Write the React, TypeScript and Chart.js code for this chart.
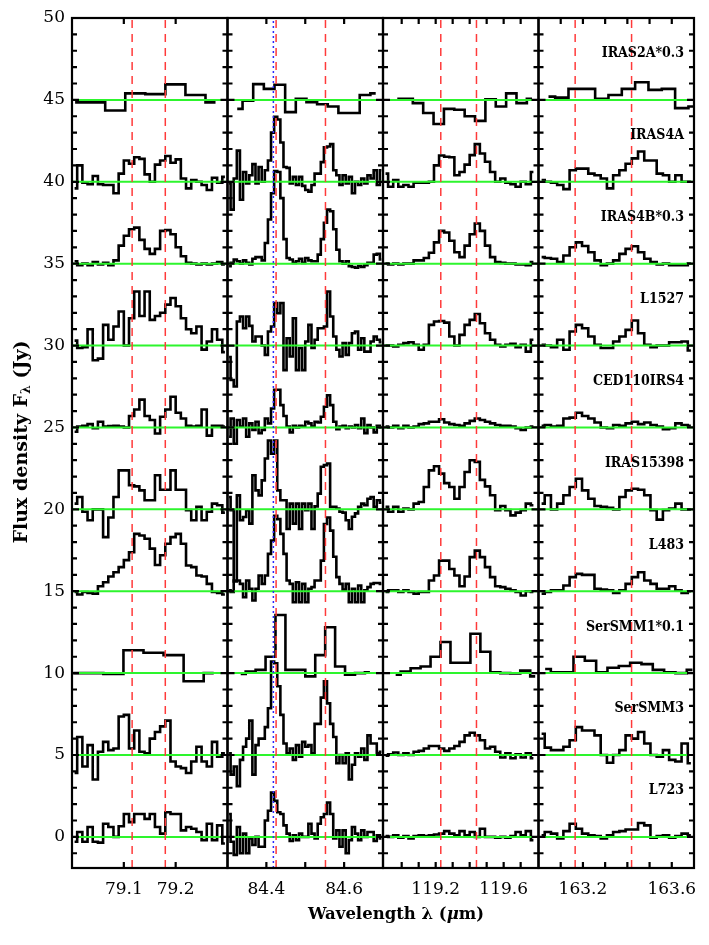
import React, { useEffect, useRef } from "react";
import { Chart, registerables } from "chart.js";

Chart.register(...registerables);

// ---------------- data ----------------
const SOURCES = ["IRAS2A*0.3", "IRAS4A", "IRAS4B*0.3", "L1527", "CED110IRS4", "IRAS15398", "L483", "SerSMM1*0.1", "SerSMM3", "L723"];
const OFFSETS = [45, 40, 35, 30, 25, 20, 15, 10, 5, 0];

const PANEL_MIN = [79.0, 84.3, 118.89, 163.0];
const PANEL_MAX = [79.3, 84.7, 119.805, 163.7];
const PANEL_TICKS = [
  [79.1, 79.2],
  [84.4, 84.5, 84.6],
  [119.0, 119.1, 119.2, 119.3, 119.4, 119.5, 119.6, 119.7],
  [163.1, 163.2, 163.3, 163.4, 163.5, 163.6],
];
const PANEL_LABELS = [
  [79.1, 79.2],
  [84.4, 84.6],
  [119.2, 119.6],
  [163.2, 163.6],
];
const OH_LINES = [
  [79.116, 79.18],
  [84.425, 84.552],
  [119.23, 119.44],
  [163.165, 163.419],
];
const CO_LINE = 84.418;
const Y_LABELS = [0, 5, 10, 15, 20, 25, 30, 35, 40, 45, 50];

// default wavelength grids (bin centres) of each panel
const GRID_START = [79.005, 84.304, 118.905, 163.014];
const GRID_STEP = [0.01, 0.008, 0.03, 0.028];

// ---- 79 um panel
const IRAS2A_79 = [-0.15, -0.15, -0.65, 0.4, 0.35, 0.95, 0.3, -0.15];
const IRAS4A_79 = [-0.4, 1.0, -0.06, -0.15, 0.35, -0.15, -0.2, -0.2, -0.7, 0.5, 1.3, 1.1, 1.5, 1.4, 0.45, 0.0, 1.05, 1.3, 1.57, 1.16, 1.37, 0.2, -0.4, 0.1, 0.0, -0.2, -0.5, 0.25, -0.06, 0.3];
const IRAS4B_79 = [0.15, -0.1, 0.0, -0.1, 0.1, -0.05, 0.05, -0.1, 0.2, 1.1, 1.7, 2.1, 2.2, 1.45, 0.9, 0.6, 0.9, 2.0, 2.05, 1.8, 1.0, 0.45, 0.05, 0.0, -0.05, 0.0, -0.05, 0.0, 0.1, -0.05];
const L1527_79 = [0.3, -0.15, -0.1, 1.0, -0.9, -0.8, 1.26, 0.35, 1.16, 2.08, 0.0, 1.67, 3.3, 1.8, 3.3, 1.57, 1.8, 2.0, 2.5, 2.9, 2.4, 1.67, 1.0, 0.75, 1.16, -0.25, 0.25, 1.0, 0.35, -0.4];
const CED110_79 = [-0.26, 0.05, 0.1, 0.2, -0.05, 0.35, 0.05, 0.08, 0.1, 0.05, 0.0, 0.7, 1.1, 1.7, 0.7, 0.45, -0.37, 0.65, 1.1, 1.87, 0.9, 0.55, 0.1, 0.05, 0.1, 1.1, -0.5, 0.1, 0.1, 0.05];
const IRAS15398_79 = [0.35, 0.75, -0.15, -0.67, 0.0, 0.0, -1.7, -0.5, 0.75, 2.38, 2.38, 1.47, 1.4, 1.16, 0.55, 0.55, 2.08, 1.2, 1.2, 2.38, 1.2, 1.2, -0.05, -0.67, 0.15, -0.67, -0.15, 0.35, 0.25, -0.2];
const L483_79 = [-0.05, -0.2, -0.05, -0.1, -0.15, 0.3, 0.55, 0.9, 1.16, 1.47, 1.9, 2.38, 3.5, 3.4, 3.2, 2.6, 1.6, 2.2, 2.9, 3.3, 3.5, 2.9, 1.57, 1.47, 0.96, 0.9, 0.45, -0.05, -0.1, -0.2];
const SERSMM1_79 = [0.0, 0.0, -0.05, 1.4, 1.24, 1.1, -0.5, 0.0];
const SERSMM3_79 = [-1.1, 1.1, -0.7, 0.6, -1.5, 0.2, 0.8, 0.3, 0.4, 2.35, 2.45, 0.4, 1.5, 0.2, 0.1, 1.0, 1.4, 1.75, 2.1, -0.4, -0.7, -0.8, -1.1, -0.4, 0.5, -0.4, -0.7, 0.8, -0.1, 0.1];
const L723_79 = [-0.3, 0.3, -0.3, 0.6, -0.3, -0.35, 0.8, 0.6, 0.0, 0.65, 1.4, 0.9, 1.4, 1.4, 1.1, 1.4, 0.6, 0.2, 1.5, 1.4, 1.4, 0.4, 0.6, 0.5, 0.3, -0.2, 0.8, -0.2, 0.7, -0.4];

// ---- 84 um panel
const IRAS2A_84 = [-0.55, -0.05, 0.96, 0.67, 0.92, -0.75, 0.06, -0.14, -0.27, -0.4, -0.8, -0.8, 0.3, 0.4];
const IRAS4A_84 = [-0.1, -1.7, 0.2, 1.9, -1.1, 0.6, -0.1, 0.4, 1.08, -0.1, 0.9, 0.0, 0.7, 1.3, 3.0, 3.97, 3.8, 2.4, 0.9, 0.85, -0.1, 0.3, -0.2, 0.3, -0.25, -0.5, -0.6, -0.2, 0.5, 0.5, 1.2, 2.1, 2.15, 2.3, 0.7, 0.4, -0.2, 0.4, -0.1, 0.3, -0.7, 0.0, -0.2, 0.2, -0.1, 0.4, 0.2, 0.7, -0.2, 0.7];
const IRAS4B_84 = [-0.15, 0.05, 0.25, 0.15, 0.0, 0.2, 0.05, -0.05, 0.3, 0.4, 0.4, 0.2, 1.26, 2.7, 4.3, 5.65, 5.6, 4.0, 1.5, 0.35, 0.25, 0.05, 0.15, 0.3, 0.05, 0.35, 0.2, 0.15, 0.15, 0.55, 1.5, 2.5, 3.3, 3.2, 2.1, 0.85, 0.15, 0.0, 0.15, -0.15, -0.2, -0.25, -0.15, -0.2, -0.1, 0.05, 0.05, 0.55, 0.6, 0.25];
const L1527_84 = [-0.7, -2.1, -2.5, 1.47, 1.77, 1.06, 1.77, 1.2, 0.25, 0.55, 0.55, 0.0, -0.57, 0.86, 1.16, 2.6, 1.97, 2.6, -1.5, 0.45, -0.67, 1.67, -1.5, -0.15, -1.5, 0.25, 1.26, -0.15, 0.35, 1.06, 1.06, 1.16, 3.3, 1.77, 0.55, -0.26, -0.67, 0.15, -0.57, 0.15, 0.75, 0.86, -0.26, 0.45, -0.37, -0.37, 0.25, 0.55, 0.35, 0.2];
const CED110_84 = [-0.57, 0.55, -1.0, 0.45, 0.05, 0.55, -0.57, 0.25, -0.15, 0.35, -0.35, -0.15, 0.55, 0.25, 1.16, 2.3, 2.3, 1.36, 0.7, 0.05, -0.3, 0.1, 0.0, 0.1, 0.05, 0.35, 0.25, 0.05, 0.35, 0.3, 0.65, 1.26, 1.97, 1.36, 0.35, -0.1, 0.05, 0.1, -0.05, 0.05, 0.0, 0.15, -0.05, 0.55, -0.35, 0.15, 0.0, -0.3, 0.1, 0.0];
const IRAS15398_84 = [0.75, -0.06, -4.4, 0.85, -0.67, -0.47, -0.06, -0.87, 2.08, 1.16, 0.85, 1.77, 3.1, 4.2, 3.4, 4.2, 1.16, 0.55, 0.55, -1.2, 0.35, -0.87, 0.35, -1.2, 0.35, -0.06, 0.35, -1.2, 0.18, 0.96, 2.6, 2.7, 2.8, 0.15, 0.15, 0.05, -0.15, -0.2, -0.67, -1.2, -0.45, -0.25, 0.15, 0.35, 0.25, 0.65, 0.75, 0.15, 0.55, 0.4];
const L483_84 = [0.05, -0.05, 0.65, 0.65, 0.45, -0.37, 0.65, 0.15, -0.57, 0.15, 0.96, 0.45, 0.96, 2.28, 3.1, 4.6, 4.4, 3.5, 2.28, 0.65, 0.45, -0.67, 0.55, -0.67, 0.45, -0.67, 0.15, 0.25, 0.65, 0.65, 1.87, 4.1, 4.5, 3.7, 2.1, 0.86, 0.45, 0.1, 0.45, -0.67, 0.15, -0.67, 0.35, -0.67, 0.05, 0.25, 0.45, 0.5, 0.5, 0.45];
const SERSMM1_84 = [-0.05, 0.1, 0.2, 1.0, 3.55, 0.2, 0.2, -0.2, 1.1, 2.8, 0.4, -0.1, 0.0, 0.05];
const SERSMM3_84 = [0.1, -1.2, -0.7, -1.9, -0.3, 0.5, 1.0, 2.1, -1.2, 0.6, 1.0, 1.0, 1.7, 2.85, 5.7, 5.6, 4.2, 2.45, 0.7, 0.1, 0.4, -0.3, 0.6, -0.1, 0.8, 0.5, 0.6, 0.1, 1.9, 1.9, 3.5, 4.5, 3.15, 1.9, 1.1, -0.5, 0.0, -0.5, 0.1, -1.5, -0.6, 0.1, -0.1, 0.4, -0.3, 1.2, 0.7, 0.7, 0.1, 0.2];
const L723_84 = [1.4, -0.3, -1.1, 0.6, -1.0, 0.2, -1.0, -0.1, -0.5, 0.0, -0.6, -0.6, 1.0, 1.6, 2.7, 2.2, 1.5, 1.4, 0.7, 0.2, -0.25, 0.1, -0.2, 0.2, 0.0, 0.0, 0.8, 0.2, -0.1, 0.8, 1.2, 1.4, 2.1, 1.4, -0.1, 0.4, -0.6, 0.4, -1.0, -0.2, 0.6, 0.2, -0.2, 0.4, 0.0, 0.3, 0.3, -0.25, 0.1, -0.1];

// ---- 119 um panel
const IRAS2A_119 = [0.06, 0.06, -0.2, -0.8, -1.47, -0.55, -0.6, -1.0, -1.28, 0.04, -0.4, 0.4, -0.2, 0.06];
const IRAS4A_119 = [0.5, -0.3, 0.1, -0.3, -0.2, -0.3, -0.05, -0.05, -0.05, 0.0, 1.0, 1.6, 1.53, 1.5, 0.4, 0.6, 1.05, 1.63, 2.3, 1.73, 1.22, 0.6, 0.0, 0.2, -0.05, -0.15, -0.3, 0.0, -0.15, 0.6];
const IRAS4B_119 = [0.0, -0.05, 0.0, -0.05, 0.0, 0.0, 0.2, 0.2, 0.35, 0.67, 1.3, 2.0, 1.9, 1.4, 0.7, 0.4, 1.1, 1.8, 2.45, 2.0, 1.1, 0.4, 0.1, 0.05, 0.0, 0.0, -0.05, -0.05, -0.1, 0.1];
const L1527_119 = [0.0, 0.0, -0.05, 0.05, 0.15, 0.2, 0.05, -0.26, 0.05, 1.26, 1.47, 1.5, 1.4, 0.55, 0.0, 0.65, 1.26, 1.57, 1.93, 1.36, 0.75, 0.35, 0.05, -0.05, 0.05, 0.1, -0.1, 0.05, -0.37, 0.35];
const CED110_119 = [0.05, 0.0, 0.1, -0.05, 0.1, 0.0, 0.05, 0.2, 0.25, 0.35, 0.35, 0.5, 0.3, 0.2, 0.15, 0.1, 0.25, 0.4, 0.55, 0.45, 0.35, 0.25, 0.15, 0.1, 0.1, 0.05, -0.05, -0.15, 0.0, 0.05];
const IRAS15398_119 = [0.15, -0.15, 0.15, -0.15, 0.05, 0.0, 0.35, 0.45, 1.36, 2.38, 2.63, 2.18, 1.6, 1.36, 0.65, 1.36, 2.28, 3.0, 2.9, 1.8, 1.4, 0.86, -0.05, 0.2, -0.05, -0.37, -0.2, -0.05, 0.35, 0.25];
const L483_119 = [-0.05, 0.05, 0.05, -0.05, 0.05, -0.05, -0.15, -0.05, -0.05, 0.65, 0.96, 1.87, 1.87, 1.36, 0.96, 0.3, 0.9, 2.08, 2.48, 2.08, 1.47, 0.86, 0.3, 0.25, 0.15, 0.05, -0.05, -0.26, 0.0, -0.05];
const SERSMM1_119 = [-0.1, 0.1, 0.3, 0.4, 1.0, 1.9, 0.63, 0.63, 2.4, 1.3, 0.05, 0.0, -0.02, 0.15, -0.2];
const SERSMM3_119 = [-0.05, 0.05, 0.15, 0.0, 0.1, 0.0, 0.2, 0.25, 0.4, 0.55, 0.55, 0.4, 0.25, 0.4, 0.55, 0.8, 1.2, 1.36, 1.2, 0.9, 0.4, 0.5, 0.2, -0.15, 0.1, -0.2, 0.05, -0.15, 0.1, -0.2];
const L723_119 = [0.05, 0.0, 0.1, -0.05, 0.05, -0.1, 0.05, 0.1, 0.05, 0.1, 0.15, 0.2, 0.35, 0.2, 0.1, 0.35, 0.1, 0.3, 0.0, 0.5, 0.0, 0.0, -0.05, 0.0, -0.05, 0.05, 0.3, 0.1, 0.35, -0.2];

// ---- 163 um panel
const IRAS2A_163 = [0.2, 0.14, 0.67, 0.67, 0.06, 0.3, 0.67, 1.08, 0.61, 0.67, -0.5, -0.4];
const IRAS4A_163 = [0.1, 0.0, -0.05, -0.2, -0.45, 0.7, 0.8, 0.8, 0.5, 0.4, 0.2, -0.4, 0.4, 0.7, 1.1, 1.43, 1.85, 1.3, 1.3, 0.5, 0.4, 0.0, 0.4, 0.0, 0.0];
const IRAS4B_163 = [0.4, 0.35, 0.3, 0.1, 0.5, 1.0, 1.3, 1.08, 0.7, 0.2, -0.1, 0.0, 0.2, 0.6, 0.9, 1.06, 0.7, 0.3, 0.1, -0.05, 0.0, -0.1, -0.1, -0.1, 0.0];
const L1527_163 = [0.05, 0.0, -0.1, 0.35, -0.26, 0.86, 1.26, 1.06, 0.55, 0.05, -0.15, -0.15, 0.25, 0.55, 0.96, 1.53, 0.75, 0.05, -0.1, 0.0, 0.0, 0.2, 0.2, 0.25, -0.3];
const CED110_163 = [0.1, 0.15, 0.05, 0.1, 0.55, 0.6, 0.9, 0.7, 0.55, 0.3, 0.0, -0.05, 0.15, 0.1, 0.25, 0.35, 0.2, 0.3, 0.15, 0.05, -0.1, -0.05, 0.25, 0.15, 0.1];
const IRAS15398_163 = [0.35, 0.86, 0.0, 0.35, 0.86, 1.36, 1.87, 1.16, 0.65, 0.2, 0.15, 0.1, 0.0, 0.75, 1.16, 1.26, 1.2, 0.86, -0.05, -0.63, -0.05, 0.05, 0.35, 0.0, 0.0];
const L483_163 = [-0.15, -0.05, 0.05, 0.05, 0.35, 0.86, 1.06, 1.0, 1.0, 0.15, 0.1, 0.05, -0.1, 0.05, 0.45, 0.86, 1.16, 0.65, 0.45, 0.15, 0.15, 0.3, 0.05, -0.1, 0.0];
const SERSMM1_163 = [0.25, 0.05, 0.05, 1.0, 0.75, 0.05, 0.33, 0.43, 0.63, 0.55, 0.2, 0.05, 0.0, 0.2];
const SERSMM3_163 = [1.3, 0.45, 0.3, 0.3, 0.5, 0.9, 1.7, 1.5, 1.5, 1.2, 0.0, -0.47, 0.0, 0.3, 1.2, 1.0, 1.4, 0.7, 0.0, -0.1, 0.3, -0.3, -0.4, 0.7, -0.5];
const L723_163 = [0.1, 0.3, 0.2, -0.1, 0.35, 0.8, 0.5, 0.2, 0.1, 0.05, -0.1, 0.1, 0.3, 0.35, 0.45, 0.45, 0.85, 0.7, -0.05, 0.05, 0.1, -0.05, 0.05, 0.2, 0.1];

type Series = { src: number; panel: number; values: number[]; start?: number; step?: number };

const SERIES: Series[] = [
  { src: 0, panel: 0, values: IRAS2A_79, start: 79.006, step: 0.0387 },
  { src: 0, panel: 1, values: IRAS2A_84, start: 84.325, step: 0.0274 },
  { src: 0, panel: 2, values: IRAS2A_119, start: 118.974, step: 0.061 },
  { src: 0, panel: 3, values: IRAS2A_163, start: 163.045, step: 0.06 },
  { src: 1, panel: 0, values: IRAS4A_79 },
  { src: 1, panel: 1, values: IRAS4A_84 },
  { src: 1, panel: 2, values: IRAS4A_119 },
  { src: 1, panel: 3, values: IRAS4A_163 },
  { src: 2, panel: 0, values: IRAS4B_79 },
  { src: 2, panel: 1, values: IRAS4B_84 },
  { src: 2, panel: 2, values: IRAS4B_119 },
  { src: 2, panel: 3, values: IRAS4B_163 },
  { src: 3, panel: 0, values: L1527_79 },
  { src: 3, panel: 1, values: L1527_84 },
  { src: 3, panel: 2, values: L1527_119 },
  { src: 3, panel: 3, values: L1527_163 },
  { src: 4, panel: 0, values: CED110_79 },
  { src: 4, panel: 1, values: CED110_84 },
  { src: 4, panel: 2, values: CED110_119 },
  { src: 4, panel: 3, values: CED110_163 },
  { src: 5, panel: 0, values: IRAS15398_79 },
  { src: 5, panel: 1, values: IRAS15398_84 },
  { src: 5, panel: 2, values: IRAS15398_119 },
  { src: 5, panel: 3, values: IRAS15398_163 },
  { src: 6, panel: 0, values: L483_79 },
  { src: 6, panel: 1, values: L483_84 },
  { src: 6, panel: 2, values: L483_119 },
  { src: 6, panel: 3, values: L483_163 },
  { src: 7, panel: 0, values: SERSMM1_79, start: 79.0025, step: 0.0387 },
  { src: 7, panel: 1, values: SERSMM1_84, start: 84.334, step: 0.02556 },
  { src: 7, panel: 2, values: SERSMM1_119, start: 118.9645, step: 0.05865 },
  { src: 7, panel: 3, values: SERSMM1_163, start: 163.03, step: 0.051 },
  { src: 8, panel: 0, values: SERSMM3_79 },
  { src: 8, panel: 1, values: SERSMM3_84 },
  { src: 8, panel: 2, values: SERSMM3_119 },
  { src: 8, panel: 3, values: SERSMM3_163 },
  { src: 9, panel: 0, values: L723_79 },
  { src: 9, panel: 1, values: L723_84 },
  { src: 9, panel: 2, values: L723_119 },
  { src: 9, panel: 3, values: L723_163 },
];

// ---------------- styling ----------------
const Y_MIN = -1.9;
const Y_MAX = 50;
const SERIF = "'DejaVu Serif', serif";
const GREEN = "#2df52d";
const RED = "#ff3a3a";
const BLUE = "#2a2aff";

function buildDatasets() {
  const ds: any[] = [];
  SERIES.forEach((s) => {
    const start = s.start ?? GRID_START[s.panel];
    const step = s.step ?? GRID_STEP[s.panel];
    ds.push({
      data: s.values.map((v, i) => ({ x: start + i * step, y: v + OFFSETS[s.src] })),
      xAxisID: "x" + s.panel,
      borderColor: "#000",
      borderWidth: 2.6,
      stepped: "middle",
      pointRadius: 0,
      fill: false,
      borderJoinStyle: "miter",
      borderCapStyle: "butt",
      order: 2,
    });
  });
  for (let p = 0; p < 4; p++) {
    OFFSETS.forEach((off) => {
      ds.push({
        data: [
          { x: PANEL_MIN[p], y: off },
          { x: PANEL_MAX[p], y: off },
        ],
        xAxisID: "x" + p,
        borderColor: GREEN,
        borderWidth: 2,
        pointRadius: 0,
        fill: false,
        order: 1,
      });
    });
    OH_LINES[p].forEach((w) => {
      ds.push({
        data: [
          { x: w, y: Y_MIN },
          { x: w, y: Y_MAX },
        ],
        xAxisID: "x" + p,
        borderColor: RED,
        borderWidth: 1.5,
        borderDash: [8, 6],
        pointRadius: 0,
        fill: false,
        order: 0,
      });
    });
  }
  ds.push({
    data: [
      { x: CO_LINE, y: Y_MIN },
      { x: CO_LINE, y: Y_MAX },
    ],
    xAxisID: "x1",
    borderColor: BLUE,
    borderWidth: 1.5,
    borderDash: [2, 3],
    pointRadius: 0,
    fill: false,
    order: 0,
  });
  return ds;
}

function xScale(p: number) {
  return {
    type: "linear",
    position: "bottom",
    stack: "wave",
    stackWeight: 1,
    min: PANEL_MIN[p],
    max: PANEL_MAX[p],
    afterBuildTicks: (s: any) => {
      s.ticks = PANEL_LABELS[p].map((v) => ({ value: v }));
    },
    afterFit: (s: any) => {
      s.height = 40;
      s.paddingLeft = 0;
      s.paddingRight = 0;
    },
    grid: { display: false, drawTicks: false },
    border: { display: false },
    ticks: {
      color: "#000",
      font: { family: SERIF, size: 17 },
      padding: 11,
      maxRotation: 0,
      autoSkip: false,
      callback: (v: any) => Number(v).toFixed(1),
    },
  };
}

const framePlugin = {
  id: "frames",
  afterDraw(chart: any) {
    const ctx = chart.ctx;
    const area = chart.chartArea;
    const y = chart.scales.y;
    ctx.save();
    ctx.strokeStyle = "#000";
    ctx.lineWidth = 2.2;
    for (let p = 0; p < 4; p++) {
      const s = chart.scales["x" + p];
      const l = s.left;
      const r = s.right;
      ctx.strokeRect(l, area.top, r - l, area.bottom - area.top);
      ctx.beginPath();
      for (let v = Math.ceil(Y_MIN); v <= Y_MAX; v++) {
        const py = y.getPixelForValue(v);
        const len = v % 5 === 0 ? 7 : 5;
        ctx.moveTo(l, py);
        ctx.lineTo(l + len, py);
        ctx.moveTo(r, py);
        ctx.lineTo(r - len, py);
      }
      PANEL_TICKS[p].forEach((t) => {
        const px = s.getPixelForValue(t);
        ctx.moveTo(px, area.bottom);
        ctx.lineTo(px, area.bottom - 6);
        ctx.moveTo(px, area.top);
        ctx.lineTo(px, area.top + 6);
      });
      ctx.stroke();
    }

    // source names
    const last = chart.scales.x3;
    ctx.fillStyle = "#000";
    ctx.font = "bold 14px 'DejaVu Serif Condensed', 'DejaVu Serif', serif";
    ctx.textAlign = "right";
    ctx.textBaseline = "middle";
    SOURCES.forEach((name, i) => {
      ctx.fillText(name, last.right - 10, y.getPixelForValue(OFFSETS[i] + 2.82));
    });

    // x title
    const big = "bold 16.5px " + SERIF;
    const ital = "italic bold 16.5px " + SERIF;
    const parts: [string, string][] = [
      ["Wavelength \u03bb (", big],
      ["\u03bc", ital],
      ["m)", big],
    ];
    let total = 0;
    parts.forEach(([t, f]) => {
      ctx.font = f;
      total += ctx.measureText(t).width;
    });
    let x = 396 - total / 2;
    ctx.textAlign = "left";
    ctx.textBaseline = "alphabetic";
    parts.forEach(([t, f]) => {
      ctx.font = f;
      ctx.fillText(t, x, 919);
      x += ctx.measureText(t).width;
    });

    // y title (rotated), with subscript lambda
    const ybig = "bold 19px " + SERIF;
    ctx.translate(22, 442);
    ctx.rotate(-Math.PI / 2);
    const yparts: [string, string, number][] = [
      ["Flux density F", ybig, 0],
      ["\u03bb", "bold 12.5px " + SERIF, 5],
      [" (Jy)", ybig, 0],
    ];
    total = 0;
    yparts.forEach(([t, f]) => {
      ctx.font = f;
      total += ctx.measureText(t).width;
    });
    x = -total / 2;
    ctx.textBaseline = "middle";
    yparts.forEach(([t, f, dy]) => {
      ctx.font = f;
      ctx.fillText(t, x, dy);
      x += ctx.measureText(t).width;
    });
    ctx.restore();
  },
};

export default function App() {
  const ref = useRef<HTMLCanvasElement | null>(null);
  useEffect(() => {
    if (!ref.current) return;
    const chart = new Chart(ref.current, {
      type: "line",
      data: { datasets: buildDatasets() },
      options: {
        animation: false,
        responsive: false,
        maintainAspectRatio: false,
        layout: { padding: { left: 0, right: 15, top: 18, bottom: 37 } },
        plugins: { legend: { display: false }, tooltip: { enabled: false } },
        scales: {
          y: {
            type: "linear",
            position: "left",
            min: Y_MIN,
            max: Y_MAX,
            afterBuildTicks: (s: any) => {
              s.ticks = Y_LABELS.map((v) => ({ value: v }));
            },
            afterFit: (s: any) => {
              s.width = 72;
            },
            grid: { display: false, drawTicks: false },
            border: { display: false },
            ticks: { color: "#000", font: { family: SERIF, size: 17 }, padding: 7 },
          },
          x0: xScale(0),
          x1: xScale(1),
          x2: xScale(2),
          x3: xScale(3),
        } as any,
      },
      plugins: [framePlugin],
    } as any);
    return () => chart.destroy();
  }, []);
  return (
    <div style={{ position: "absolute", left: 0, top: 0, width: 709, height: 945, background: "#fff" }}>
      <canvas ref={ref} width={709} height={945} style={{ width: 709, height: 945, display: "block" }} />
    </div>
  );
}
